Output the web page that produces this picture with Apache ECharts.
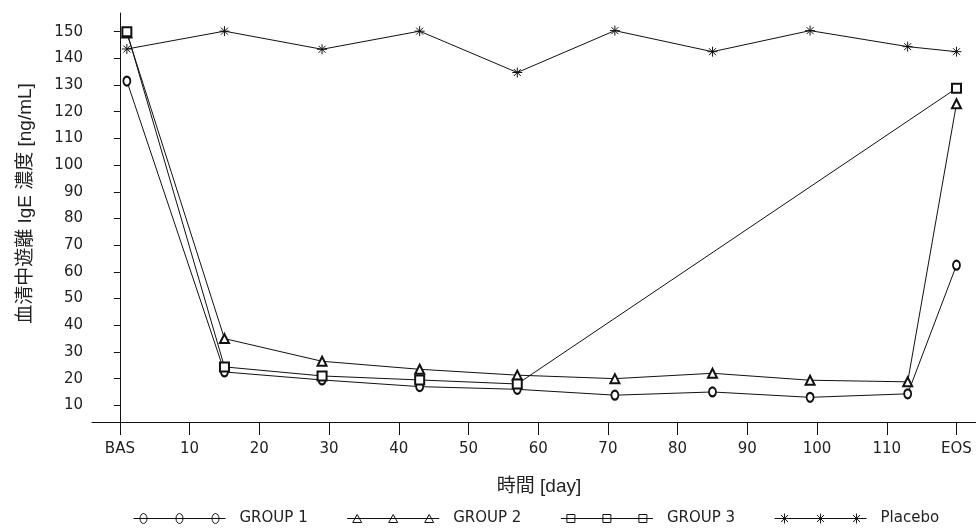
<!DOCTYPE html>
<html>
<head>
<meta charset="utf-8">
<script src="https://cdn.jsdelivr.net/npm/echarts@6/dist/echarts.min.js"></script>
<style>html,body{margin:0;padding:0;background:#fff}#c{width:976px;height:532px}</style>
</head>
<body>
<div id="c"></div>
<script>
// Visit days (BAS plotted at day 1, EOS at day 120)
const days = [1, 15, 29, 43, 57, 71, 85, 99, 113, 120];
const group1 = [131.5, 22.5, 19.5, 17, 16, 13.8, 15, 13, 14.3, 62.5];
const group2 = [149.5, 35, 26.5, 23.5, 21.3, 20, 22, 19.4, 18.8, 123];
const group3 = [150, 24.4, 21, 19.5, 18, null, null, null, null, 128.8];
const placebo = [143.5, 150.2, 143.4, 150.2, 134.7, 150.4, 142.5, 150.4, 144.4, 142.5];
const seriesNames = ['GROUP 1', 'GROUP 2', 'GROUP 3', 'Placebo'];
const xTickValues = [0, 10, 20, 30, 40, 50, 60, 70, 80, 90, 100, 110, 120];
const xTickLabels = ['BAS', '10', '20', '30', '40', '50', '60', '70', '80', '90', '100', '110', 'EOS'];
const yTickValues = [10, 20, 30, 40, 50, 60, 70, 80, 90, 100, 110, 120, 130, 140, 150];
const xTitle = '時間 [day]';
const yTitle = '血清中遊離 IgE 濃度 [ng/mL]';

const FONT = '"DejaVu Sans", "Noto Sans CJK JP", sans-serif';
const TFONT = '"Liberation Sans", "Noto Sans CJK JP", sans-serif';
const ASTER = 'path://M0,5L10,5M5,0L5,10M1.5,1.5L8.5,8.5M8.5,1.5L1.5,8.5';

function legendPath(kind) {
  const xs = [10, 46, 82];
  let p = 'M0,5L92,5';
  xs.forEach(x => {
    if (kind === 'circle') p += `M${x},0A3.5,5 0 1,1 ${x},10A3.5,5 0 1,1 ${x},0Z`;
    else if (kind === 'tri') p += `M${x},1L${x + 4.5},9L${x - 4.5},9Z`;
    else if (kind === 'rect') p += `M${x - 4},1L${x + 4},1L${x + 4},9L${x - 4},9Z`;
    else p += `M${x - 5},5L${x + 5},5M${x},0L${x},10M${x - 3.5},1.5L${x + 3.5},8.5M${x + 3.5},1.5L${x - 3.5},8.5`;
  });
  return 'path://' + p;
}

const pairs = vals => days.map((d, i) => [d, vals[i]]);

const mk = (name, vals, symbol, size) => ({
  name, type: 'line', data: pairs(vals), connectNulls: true,
  symbol, symbolSize: size, showSymbol: true,
  lineStyle: { color: '#111', width: 1 },
  itemStyle: { color: '#111', borderColor: '#111', borderWidth: 1 },
  emphasis: { disabled: true }
});

const chart = echarts.init(document.getElementById('c'), null, { renderer: 'canvas' });
chart.setOption({
  animation: false,
  backgroundColor: '#fff',
  grid: { left: 92, right: 0, top: 13, bottom: 110 },
  legend: {
    left: 128, top: 506,
    itemWidth: 92, itemHeight: 10, itemGap: 39,
    data: [
      { name: seriesNames[0], icon: legendPath('circle') },
      { name: seriesNames[1], icon: legendPath('tri') },
      { name: seriesNames[2], icon: legendPath('rect') },
      { name: seriesNames[3], icon: legendPath('aster') }
    ],
    itemStyle: { color: 'transparent', borderColor: '#111', borderWidth: 1 },
    textStyle: { fontFamily: FONT, fontSize: 15, color: '#222', padding: [0, 0, 0, 9] }
  },
  xAxis: {
    type: 'value', min: -4, max: 122.8,
    name: xTitle, nameLocation: 'middle', nameGap: 55,
    nameTextStyle: { fontFamily: TFONT, fontSize: 19, color: '#222', padding: [0, 0, 0, 10] },
    axisLine: { show: true, lineStyle: { color: '#111', width: 1 } },
    axisTick: { show: true, length: 13, customValues: xTickValues, lineStyle: { color: '#111' } },
    axisLabel: {
      customValues: xTickValues, margin: 20, fontFamily: FONT, fontSize: 15, color: '#222',
      formatter: v => xTickLabels[xTickValues.indexOf(v)]
    },
    splitLine: { show: false }
  },
  yAxis: {
    type: 'value', min: 3.75, max: 157,
    name: yTitle, nameLocation: 'middle', nameGap: 57,
    nameTextStyle: { fontFamily: TFONT, fontSize: 19, color: '#222', padding: [0, 0, 0, 28] },
    axisLine: { show: true, lineStyle: { color: '#111', width: 1 } },
    axisTick: { show: true, length: 6, customValues: yTickValues, lineStyle: { color: '#111' } },
    axisLabel: { customValues: yTickValues, margin: 9, fontFamily: FONT, fontSize: 15, color: '#222' },
    splitLine: { show: false }
  },
  series: [
    mk(seriesNames[0], group1, 'emptyCircle', [7, 9]),
    mk(seriesNames[1], group2, 'emptyTriangle', 9),
    mk(seriesNames[2], group3, 'emptyRect', 9),
    mk(seriesNames[3], placebo, ASTER, 10)
  ]
});
</script>
</body>
</html>
